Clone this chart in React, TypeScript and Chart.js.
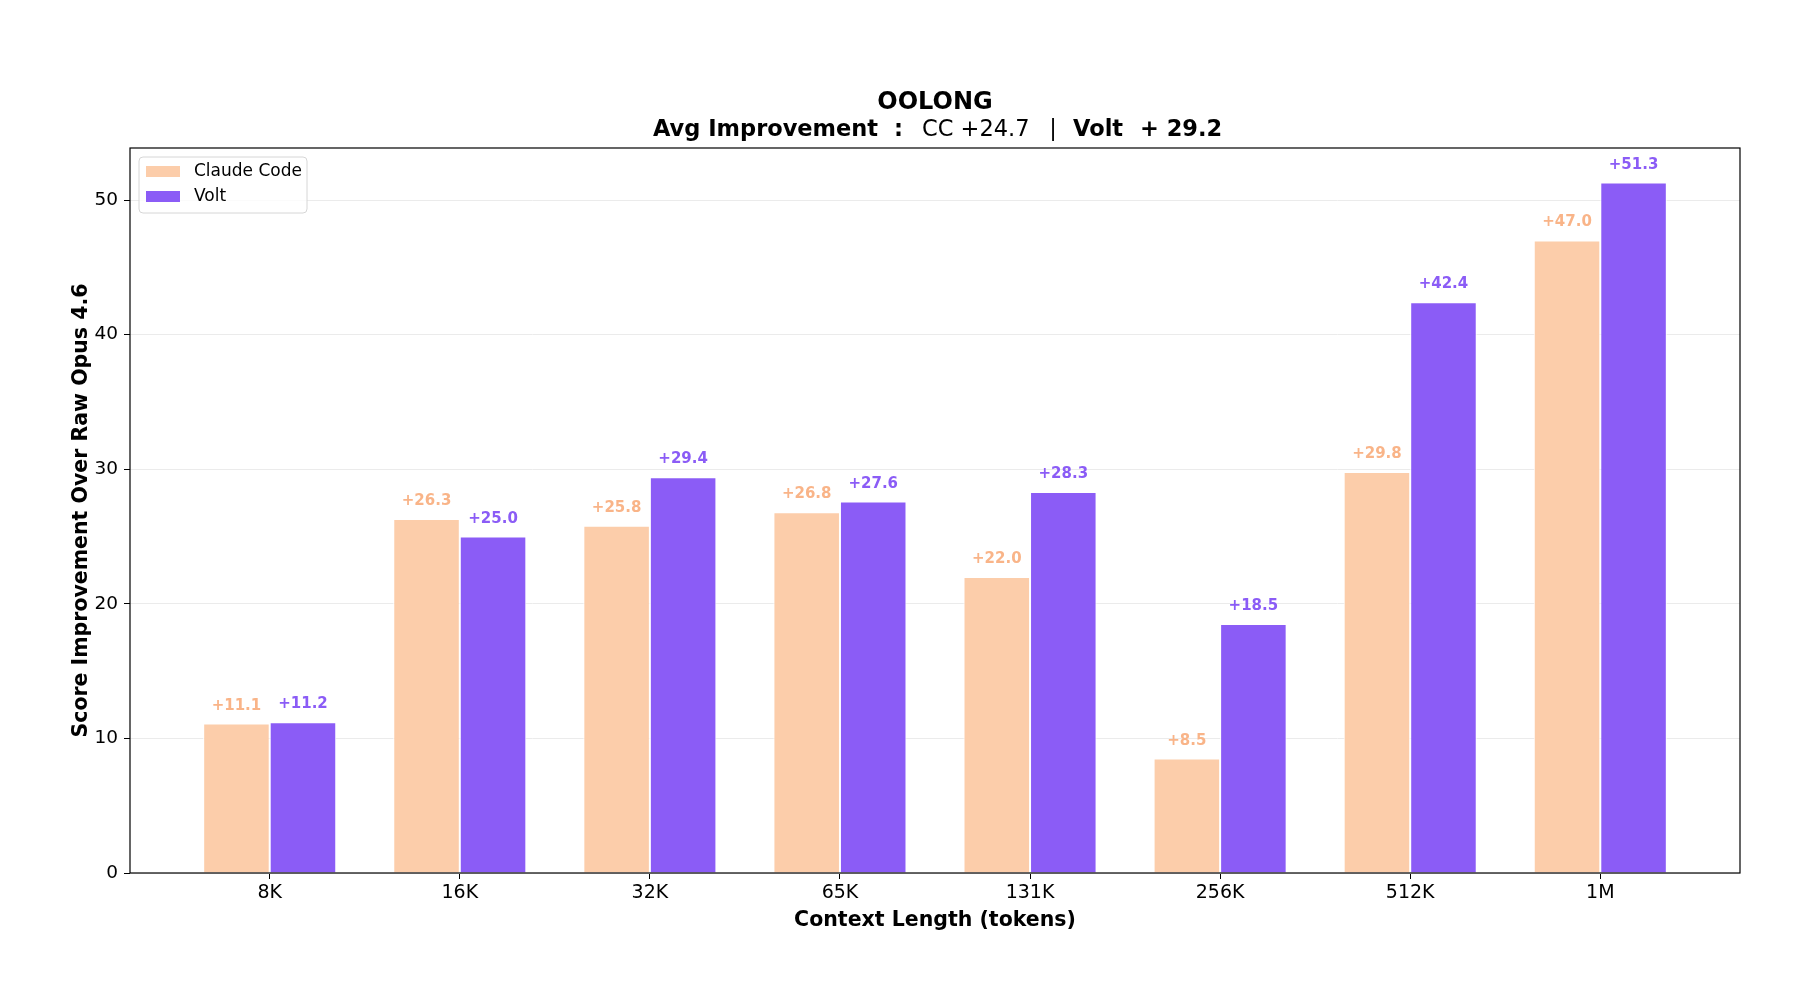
import { useEffect, useRef } from "react";
import { Chart, registerables } from "chart.js";

Chart.register(...registerables);

const FONT = "'DejaVu Sans', 'Liberation Sans', sans-serif";

const categories = ["8K", "16K", "32K", "65K", "131K", "256K", "512K", "1M"];
const claudeCode = [11.1, 26.3, 25.8, 26.8, 22.0, 8.5, 29.8, 47.0];
const volt = [11.2, 25.0, 29.4, 27.6, 28.3, 18.5, 42.4, 51.3];
const seriesNames = ["Claude Code", "Volt"];

const titleText = "OOLONG";
const yTitle = "Score Improvement Over Raw Opus 4.6";
const xTitle = "Context Length (tokens)";

const CC_BAR = "#FCCDAA";
const CC_TEXT = "#F9B488";
const VOLT = "#8B5CF6";

// labels, frame, legend and titles (matplotlib style)
const overlay = {
  id: "overlay",
  afterDatasetsDraw(chart: any) {
    const { ctx, chartArea: a } = chart;
    ctx.save();
    ctx.font = `bold 15px ${FONT}`;
    ctx.textAlign = "center";
    ctx.textBaseline = "alphabetic";
    [claudeCode, volt].forEach((vals, i) => {
      ctx.fillStyle = i === 0 ? CC_TEXT : VOLT;
      chart.getDatasetMeta(i).data.forEach((bar: any, j: number) => {
        const { x, y } = bar.getProps(["x", "y"], true);
        ctx.fillText(`+${vals[j].toFixed(1)}`, x, y - 14);
      });
    });

    ctx.strokeStyle = "#000";
    ctx.lineWidth = 1.2;
    ctx.strokeRect(a.left, a.top, a.right - a.left, a.bottom - a.top);
    ctx.restore();
  },
  afterDraw(chart: any) {
    const { ctx, chartArea: a } = chart;
    const cx = (a.left + a.right) / 2;
    ctx.save();
    ctx.fillStyle = "#000";
    ctx.textBaseline = "alphabetic";

    // title
    ctx.textAlign = "center";
    ctx.font = `bold 24px ${FONT}`;
    ctx.fillText(titleText, cx, 109);

    // subtitle with mixed weights
    const sy = 136;
    ctx.textAlign = "left";
    ctx.font = `bold 22.5px ${FONT}`;
    ctx.fillText("Avg Improvement", 653, sy);
    ctx.fillText(":", 894, sy);
    ctx.font = `22.5px ${FONT}`;
    ctx.fillText("CC +24.7", 922, sy);
    ctx.textAlign = "center";
    ctx.fillText("|", 1053, sy);
    ctx.textAlign = "left";
    ctx.font = `bold 22.5px ${FONT}`;
    ctx.fillText("Volt", 1073, sy);
    ctx.fillText("+ 29.2", 1140, sy);

    // axis titles
    ctx.textAlign = "center";
    ctx.font = `bold 20.5px ${FONT}`;
    ctx.fillText(xTitle, cx, 926);
    ctx.save();
    ctx.translate(87, (a.top + a.bottom) / 2);
    ctx.rotate(-Math.PI / 2);
    ctx.fillText(yTitle, 0, 0);
    ctx.restore();

    // legend
    const bx = 139, by = 157, bw = 168, bh = 56, r = 4;
    ctx.beginPath();
    ctx.moveTo(bx + r, by);
    ctx.arcTo(bx + bw, by, bx + bw, by + bh, r);
    ctx.arcTo(bx + bw, by + bh, bx, by + bh, r);
    ctx.arcTo(bx, by + bh, bx, by, r);
    ctx.arcTo(bx, by, bx + bw, by, r);
    ctx.closePath();
    ctx.fillStyle = "rgba(255,255,255,0.8)";
    ctx.fill();
    ctx.strokeStyle = "#d6d6d6";
    ctx.lineWidth = 1;
    ctx.stroke();

    ctx.font = `17px ${FONT}`;
    ctx.textAlign = "left";
    ctx.textBaseline = "middle";
    seriesNames.forEach((name, i) => {
      const y = 172 + i * 25;
      ctx.fillStyle = i === 0 ? CC_BAR : VOLT;
      ctx.fillRect(146, y - 6, 34, 11);
      ctx.fillStyle = "#000";
      ctx.fillText(name, 194, y);
    });
    ctx.restore();
  },
};

export default function App() {
  const canvasRef = useRef<HTMLCanvasElement>(null);
  const chartRef = useRef<Chart | null>(null);

  useEffect(() => {
    document.body.style.margin = "0";
    if (!canvasRef.current) return;
    if (chartRef.current) chartRef.current.destroy();

    const toPoints = (vals: number[]) => vals.map((v, i) => ({ x: i, y: v }));

    chartRef.current = new Chart(canvasRef.current, {
      type: "bar",
      data: {
        datasets: [
          {
            label: seriesNames[0],
            data: toPoints(claudeCode),
            backgroundColor: CC_BAR,
            borderColor: "#ffffff",
            borderWidth: 1,
          },
          {
            label: seriesNames[1],
            data: toPoints(volt),
            backgroundColor: VOLT,
            borderColor: "#ffffff",
            borderWidth: 1,
          },
        ],
      },
      options: {
        responsive: false,
        animation: false,
        devicePixelRatio: 1,
        layout: { padding: { top: 148, right: 66, left: 0, bottom: 0 } },
        datasets: { bar: { categoryPercentage: 0.7, barPercentage: 1.0 } },
        plugins: {
          legend: { display: false },
          title: { display: false },
          tooltip: { enabled: false },
        },
        scales: {
          x: {
            type: "linear",
            min: -0.735,
            max: 7.735,
            offset: false,
            grid: {
              offset: false,
              drawOnChartArea: false,
              drawTicks: true,
              tickLength: 6,
              tickColor: "#000",
            },
            border: { display: false },
            ticks: {
              stepSize: 1,
              includeBounds: false,
              padding: 3,
              color: "#000",
              font: { family: FONT, size: 19 },
              callback: (v: any) => categories[v] ?? "",
            },
            afterBuildTicks: (scale: any) => {
              scale.ticks = categories.map((_, i) => ({ value: i }));
            },
            afterFit: (scale: any) => {
              scale.height = 996 - 873;
            },
          },
          y: {
            min: 0,
            max: 53.865,
            grid: {
              color: "#ebebeb",
              lineWidth: 1,
              tickColor: "#000",
              tickLength: 6,
            },
            border: { display: false },
            ticks: {
              stepSize: 10,
              includeBounds: false,
              padding: 6,
              color: "#000",
              font: { family: FONT, size: 18.5 },
            },
            afterFit: (scale: any) => {
              scale.width = 130;
            },
          },
        },
      } as any,
      plugins: [overlay],
    });

    return () => {
      chartRef.current?.destroy();
      chartRef.current = null;
    };
  }, []);

  return (
    <div style={{ width: 1806, height: 996, background: "#fff" }}>
      <canvas ref={canvasRef} width={1806} height={996} />
    </div>
  );
}
